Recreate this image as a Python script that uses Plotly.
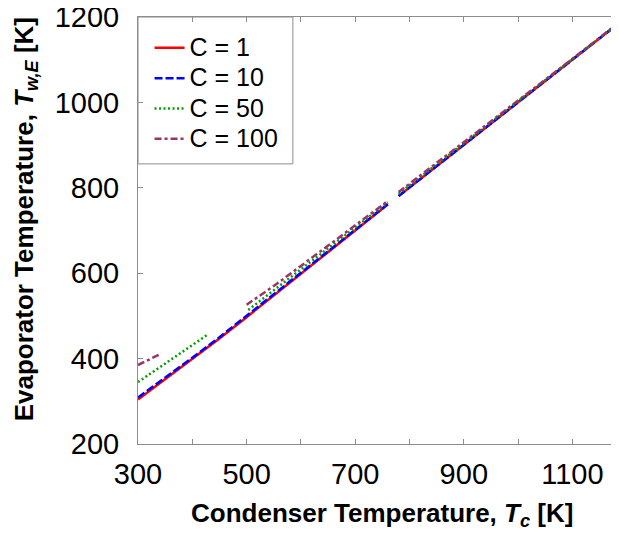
import plotly.graph_objects as go

# ---- data ----
tc_c1 = [300, 350, 400, 450, 500, 550, 600, 650, 700, 760, None, 780, 850, 900, 1000, 1100, 1190]
tw_c1 = [304, 351, 398, 447, 497, 548, 599, 650, 701, 761, None, 781, 851, 901, 1001, 1100, 1190]

tc_c10 = [300, 350, 400, 450, 500, 550, 600, 650, 700, 760, None, 780, 850, 900, 1000, 1100, 1190]
tw_c10 = [309, 355, 402, 450, 500, 550, 600, 651, 702, 762, None, 781, 851, 901, 1001, 1100, 1190]

tc_c50 = [300, 350, 400, 428, None, 503, 550, 600, 650, 700, 760, None, 780, 850, 900, 1000, 1100, 1190]
tw_c50 = [345, 388, 432, 456, None, 514, 560, 609, 658, 707, 766, None, 786, 855, 904, 1003, 1101, 1190]

tc_c100 = [300, 320, 343, None, 500, 550, 600, 650, 700, 760, None, 780, 850, 900, 1000, 1100, 1190]
tw_c100 = [385, 398, 412, None, 526, 570, 617, 664, 711, 769, None, 790, 858, 907, 1005, 1102, 1191]

series_names = ["C = 1", "C = 10", "C = 50", "C = 100"]
x_ticks = [300, 500, 700, 900, 1100]
y_ticks = [200, 400, 600, 800, 1000, 1200]
x_title = "<b>Condenser Temperature, <i>T</i><sub><i>c</i></sub> [K]</b>"
y_title = "<b>Evaporator Temperature, <i>T</i><sub><i>w,E</i></sub> [K]</b>"

FONT = "Arial, Liberation Sans, sans-serif"
AXIS_GRAY = "#8c8c8c"

fig = go.Figure()
styles = [
    ("#ff0000", "solid"),
    ("#0000ff", "8px,3px"),
    ("#00a000", "2px,2.5px"),
    ("#993366", "7px,3px,3px,3px"),
]
data = [(tc_c1, tw_c1), (tc_c10, tw_c10), (tc_c50, tw_c50), (tc_c100, tw_c100)]
for i, ((xs, ys), name, (col, dash)) in enumerate(zip(data, series_names, styles)):
    fig.add_trace(go.Scatter(
        x=xs, y=ys, mode="lines",
        name=f'<span style="font-size:25px">{name}</span>',
        line=dict(color=col, width=2.5, dash=dash),
        connectgaps=False, legendgroup=f"g{i}",
    ))

# the page body adds an 8 px offset, so the figure is 611 wide and placed at (8, 8)
fig.update_layout(
    width=611, height=525,
    margin=dict(l=130, r=0, t=9, b=89),
    paper_bgcolor="white", plot_bgcolor="white",
    font=dict(family=FONT, color="black"),
    showlegend=True,
    legend=dict(
        x=0.024, y=0.975, xanchor="left", yanchor="top",
        bgcolor="rgba(0,0,0,0)", borderwidth=0,
        font=dict(size=21, family=FONT, color="black"),
        tracegroupgap=0, traceorder="normal",
    ),
    shapes=[dict(
        type="rect", xref="paper", yref="paper",
        x0=0, x1=0.322, y0=0.656, y1=1,
        line=dict(color=AXIS_GRAY, width=1), fillcolor="rgba(0,0,0,0)",
        layer="above",
    )],
    annotations=[
        dict(text=y_title, xref="paper", yref="paper", x=-0.235, y=0.526,
             xanchor="center", yanchor="middle", textangle=-90, showarrow=False,
             font=dict(size=26, family=FONT, color="black")),
        dict(text=x_title, xref="paper", yref="paper", x=0.507, y=-0.164,
             xanchor="center", yanchor="middle", showarrow=False,
             font=dict(size=26, family=FONT, color="black")),
    ],
)

fig.update_xaxes(
    range=[300, 1185.8], tickvals=x_ticks, ticktext=[str(v) for v in x_ticks],
    ticks="inside", ticklen=5, tickcolor=AXIS_GRAY,
    minor=dict(dtick=100, tick0=300, ticks="inside", ticklen=5, tickcolor=AXIS_GRAY),
    showline=True, linecolor=AXIS_GRAY, linewidth=1, mirror="ticks",
    showgrid=False, zeroline=False,
    tickfont=dict(size=29, family=FONT, color="black"),
    ticklabelstandoff=4, ticklabeloverflow="allow",
    automargin=False,
)
fig.update_yaxes(
    range=[200, 1200], tickvals=y_ticks, ticktext=[str(v) for v in y_ticks],
    ticks="inside", ticklen=5, tickcolor=AXIS_GRAY,
    showline=True, linecolor=AXIS_GRAY, linewidth=1, mirror=False,
    showgrid=False, zeroline=False,
    tickfont=dict(size=29, family=FONT, color="black"),
    ticklabelstandoff=12, ticklabeloverflow="allow",
    automargin=False,
)

fig.write_html("out.html")
